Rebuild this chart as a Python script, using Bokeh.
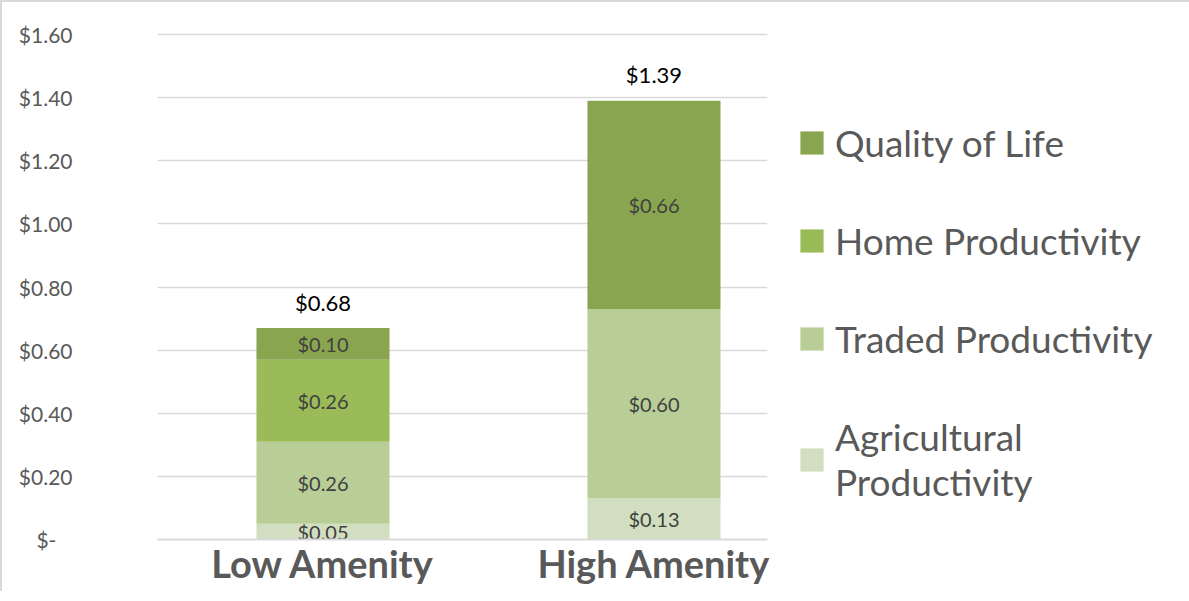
from bokeh.plotting import figure
from bokeh.models import (Range1d, FixedTicker, NumeralTickFormatter, Legend,
                          LegendItem, ColumnDataSource)
from bokeh.core.properties import value
from bokeh.embed import file_html
from bokeh.resources import INLINE

# ---------------- data ----------------
categories = ["Low Amenity", "High Amenity"]
series = ["Agricultural Productivity", "Traded Productivity",
          "Home Productivity", "Quality of Life"]
agricultural = [0.05, 0.13]
traded = [0.26, 0.60]
home = [0.26, 0.00]
quality = [0.10, 0.66]
totals = [0.68, 1.39]
y_ticks = [0.0, 0.2, 0.4, 0.6, 0.8, 1.0, 1.2, 1.4, 1.6]

colors = ["#D2DEC0", "#B9CD96", "#9BBB59", "#8AA550"]
FONT = "Lato"
GREY = "#595959"

xs = list(range(len(categories)))
keys = ["agri", "traded", "home", "quality"]
src = ColumnDataSource(dict(x=xs, agri=agricultural, traded=traded,
                            home=home, quality=quality))

p = figure(frame_width=610, frame_height=515, output_backend="svg", toolbar_location=None,
           x_range=Range1d(-0.5, 1.343), y_range=Range1d(0, 1.632),
           min_border_left=155, min_border_right=0,
           min_border_top=22, min_border_bottom=52)
p.outline_line_color = None
p.background_fill_color = "white"
p.styles = {"border-left": "2px solid #D9D9D9", "border-top": "2px solid #D9D9D9"}

renderers = p.vbar_stack(keys, x="x", width=0.402, source=src,
                         color=colors, line_color=None)

# segment labels
lx, ly, lt = [], [], []
cols = [agricultural, traded, home, quality]
for i in xs:
    base = 0.0
    for c in cols:
        v = c[i]
        if v > 0:
            lx.append(i)
            ly.append(base + v / 2)
            lt.append("${:.2f}".format(v))
        base += v
p.text(x=lx, y=ly, text=lt, text_align="center", text_baseline="middle",
       text_font=value(FONT), text_font_size="20px", text_color="#404040")

# totals
tops = [agricultural[i] + traded[i] + home[i] + quality[i] for i in xs]
p.text(x=xs, y=tops, text=["${:.2f}".format(t) for t in totals],
       text_align="center", text_baseline="middle", y_offset=-26,
       text_font=value(FONT), text_font_size="22px", text_color="#000000")

# axes
p.yaxis.ticker = FixedTicker(ticks=y_ticks)
p.yaxis.formatter = NumeralTickFormatter(format="$0.00")
p.yaxis.major_label_overrides = {0: "$-\u00a0\u00a0\u00a0"}
p.yaxis.axis_line_color = None
p.yaxis.major_tick_line_color = None
p.yaxis.minor_tick_line_color = None
p.yaxis.major_label_standoff = 79
p.yaxis.major_label_text_font = FONT
p.yaxis.major_label_text_font_size = "21px"
p.yaxis.major_label_text_color = GREY

p.xaxis.ticker = FixedTicker(ticks=xs)
p.xaxis.major_label_overrides = {i: c for i, c in zip(xs, categories)}
p.xaxis.axis_line_color = "#D9D9D9"
p.xaxis.axis_line_width = 2
p.xaxis.major_tick_line_color = None
p.xaxis.minor_tick_line_color = None
p.xaxis.major_label_standoff = -6
p.xaxis.major_label_text_font = FONT
p.xaxis.major_label_text_font_style = "bold"
p.xaxis.major_label_text_font_size = "38px"
p.xaxis.major_label_text_color = GREY

p.xgrid.grid_line_color = None
p.ygrid.grid_line_color = "#D9D9D9"
p.ygrid.grid_line_width = 1.5

labels = ["Agricultural\nProductivity", "Traded Productivity",
          "Home Productivity", "Quality of Life"]
items = [LegendItem(label=labels[k], renderers=[renderers[k]]) for k in range(3, -1, -1)]
legend = Legend(items=items, location="top_left")
legend.title = "\u00a0"
legend.title_text_font_size = "20px"
legend.title_standoff = 43
legend.border_line_color = None
legend.background_fill_alpha = 0
legend.glyph_width = 29
legend.glyph_height = 29
legend.label_standoff = 9
legend.label_text_font = FONT
legend.label_text_font_size = "37px"
legend.label_text_color = GREY
legend.spacing = 53
legend.padding = 0
legend.margin = 30
p.add_layout(legend, "right")

open("out.html", "w").write(file_html(p, INLINE))
